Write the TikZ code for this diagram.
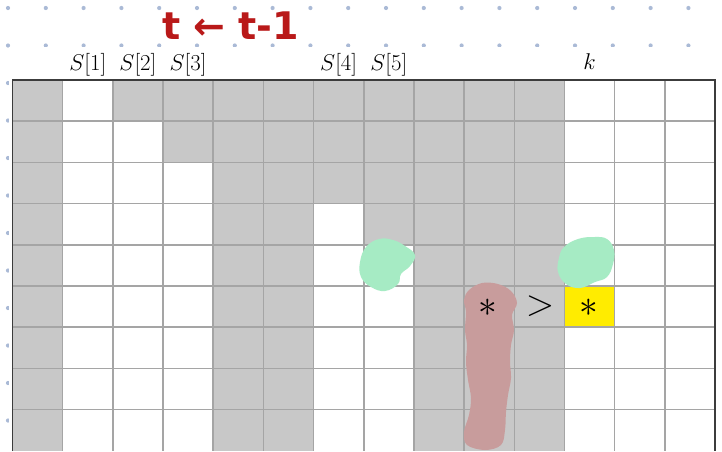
\documentclass[tikz,border=0pt]{standalone}
\usepackage{fontspec}
\newfontfamily\handfont{DejaVu Sans}
\definecolor{cellgray}{RGB}{200,200,200}
\definecolor{gridline}{RGB}{165,165,165}
\definecolor{frameline}{RGB}{60,60,60}
\definecolor{dotcol}{RGB}{170,186,214}
\definecolor{inkred}{RGB}{185,25,25}
\definecolor{mint}{RGB}{166,235,196}
\definecolor{rosy}{RGB}{200,156,156}
\definecolor{hiyellow}{RGB}{255,236,0}
\tikzset{
  toplabel/.style={anchor=base, inner sep=0pt, font=\fontsize{20.74}{24}\selectfont, scale=1.1},
  bigsym/.style={anchor=center, inner sep=0pt, font=\fontsize{24.88}{28}\selectfont, scale=1.5},
}
\begin{document}
\begin{tikzpicture}[x=1pt,y=-1pt]
\useasboundingbox (0,0) rectangle (722,451);
\fill[white] (0,0) rectangle (722,451);
% dotted paper
\foreach \i in {0,...,18}{
  \foreach \j in {0,...,11}{
    \fill[dotcol] ({8+37.8*\i},{8+37.5*\j}) circle (2.1);
  }
}
\fill[white] (9,46.5) rectangle (722,451);
\def\cw{50.18}
\def\rh{41.2}
% gray columns
\foreach \c/\h in {1/9,3/1,4/2,5/9,6/9,7/3,8/4,9/9,10/9,11/9}{
  \fill[cellgray] ({12.5+\cw*(\c-1)},80) rectangle ({12.5+\cw*\c},{80+\rh*\h});
}
% yellow cell
\fill[hiyellow] ({12.5+\cw*11},{80+\rh*5}) rectangle ({12.5+\cw*12},{80+\rh*6});
% grid lines
\foreach \c in {1,...,13}{
  \draw[gridline, line width=1.6] ({12.5+\cw*\c},80) -- ({12.5+\cw*\c},451);
}
\foreach \r in {1,...,8}{
  \draw[gridline, line width=1.6] (12.5,{80+\rh*\r}) -- (715,{80+\rh*\r});
}
\draw[frameline, line width=1.5] (12.5,451) -- (12.5,80) -- (715,80) -- (715,451);
% blobs
\fill[mint] plot[smooth cycle, tension=0.7] coordinates {(366,247) (379,239) (393,240) (405,246) (415,255) (410,266) (401,274) (398,284) (385,291) (371,287) (361,277) (360,262)};
\fill[mint] plot[smooth cycle, tension=0.7] coordinates {(564,247) (578,239) (594,237) (607,239) (614,250) (613,264) (607,277) (595,282) (580,288) (566,284) (558,272) (559,258)};
\fill[rosy] plot[smooth cycle, tension=0.6] coordinates {(469,290) (482,283) (498,284) (511,291) (517,303) (512,315) (514,330) (511,345) (510,362) (511,378) (508,395) (506,412) (505,430) (501,445) (485,450) (467,445) (464,432) (469,415) (471,398) (468,380) (466,362) (467,345) (465,330) (466,312) (464,300)};
% labels
\node[toplabel] (s1) at ({12.5+\cw*1.5},70) {$S[1]$};
\node[toplabel] (s2) at ({12.5+\cw*2.5},70) {$S[2]$};
\node[toplabel] (s3) at ({12.5+\cw*3.5},70) {$S[3]$};
\node[toplabel] (s4) at ({12.5+\cw*6.5},70) {$S[4]$};
\node[toplabel] (s5) at ({12.5+\cw*7.5},70) {$S[5]$};
\node[toplabel] (k) at ({12.5+\cw*11.5},69) {$k$};
% symbols
\node[bigsym] (astl) at (488,308) {$\ast$};
\node[bigsym] (gt) at (540,306) {$>$};
\node[bigsym] (astr) at (589,308) {$\ast$};
% title
\node[anchor=base west, inner sep=0pt, text=inkred, font=\handfont\bfseries\fontsize{38}{40}\selectfont] (title) at (162,39) {t ← t-1};
\end{tikzpicture}
\end{document}
